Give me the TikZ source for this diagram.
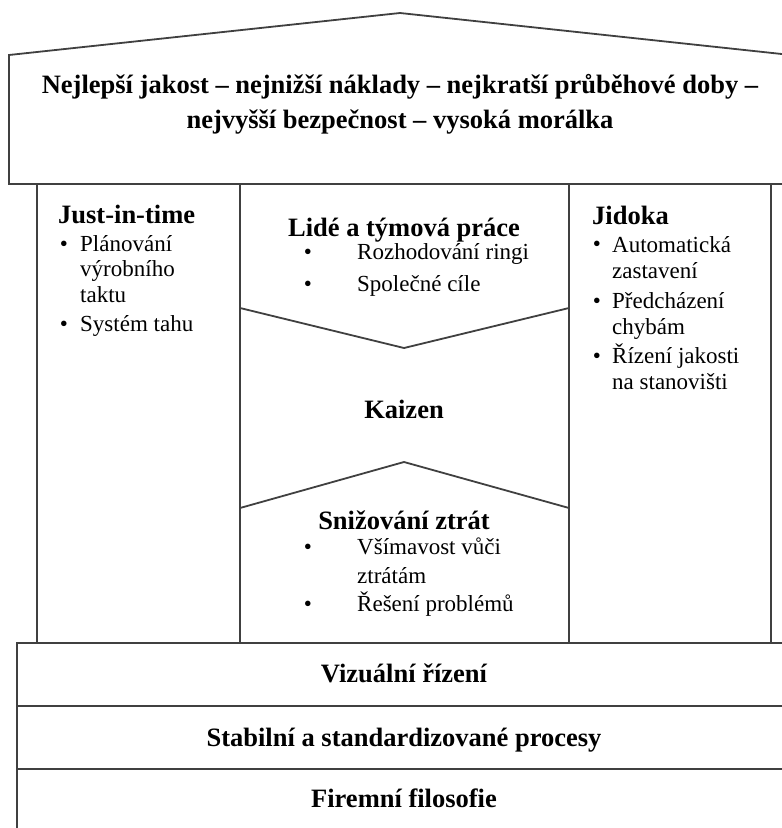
\documentclass[tikz,border=0pt]{standalone}
\usepackage{fontspec}
\setmainfont{Liberation Serif}
\usetikzlibrary{positioning}

\tikzset{
  wall/.style={line width=1.8pt, black!75},
  headtxt/.style={font=\fontsize{26.5}{30}\selectfont\bfseries, inner sep=0pt, anchor=base},
  itemtxt/.style={font=\fontsize{23}{25.5}\selectfont, inner sep=0pt, anchor=base west, align=left},
  blt/.style={font=\fontsize{23}{25.5}\selectfont, inner sep=0pt, anchor=base},
}

\begin{document}
\begin{tikzpicture}[x=1pt,y=-1pt]
\useasboundingbox (0,0) rectangle (782,828);
\begin{scope}
\clip (0,0) rectangle (782,828);
% roof
\draw[wall] (9,55) -- (400,13) -- (791,55) -- (791,184) -- (9,184) -- cycle;
% pillars
\draw[wall] (37,184) -- (37,643);
\draw[wall] (240,184) -- (240,643);
\draw[wall] (569,184) -- (569,643);
\draw[wall] (771,184) -- (771,643);
% kaizen chevrons
\draw[wall] (240,308) -- (404,348) -- (569,308);
\draw[wall] (240,508) -- (404,462) -- (569,508);
% foundation
\draw[wall] (17,840) -- (17,643) -- (800,643);
\draw[wall] (17,706) -- (800,706);
\draw[wall] (17,769) -- (800,769);
\end{scope}

% roof text
\node[headtxt] (goal1) at (400,93) {Nejlepší jakost – nejnižší náklady – nejkratší průběhové doby –};
\node[headtxt] (goal2) at (400,128) {nejvyšší bezpečnost – vysoká morálka};

% just-in-time (multi-line items sit on their last baseline)
\node[headtxt, anchor=base west] (jit) at (58,223) {Just-in-time};
\node[blt] (jitb1) at (64,251) {•};
\node[itemtxt] (jit1) at (80,302) {Plánování\\výrobního\\taktu};
\node[blt] (jitb2) at (64,331) {•};
\node[itemtxt] (jit2) at (80,331) {Systém tahu};

% people
\node[headtxt] (team) at (404,236) {Lidé a týmová práce};
\node[blt] (teamb1) at (308,259) {•};
\node[itemtxt] (team1) at (357,259) {Rozhodování ringi};
\node[blt] (teamb2) at (308,291) {•};
\node[itemtxt] (team2) at (357,291) {Společné cíle};

% kaizen
\node[headtxt] (kaizen) at (404,418) {Kaizen};

% waste
\node[headtxt] (waste) at (404,529) {Snižování ztrát};
\node[blt] (wasteb1) at (308,554) {•};
\node[itemtxt] (waste1) at (357,583) {Všímavost vůči\\[3pt]ztrátám};
\node[blt] (wasteb2) at (308,611) {•};
\node[itemtxt] (waste2) at (357,611) {Řešení problémů};

% jidoka
\node[headtxt, anchor=base west] (jidoka) at (592,224) {Jidoka};
\node[blt] (jidb1) at (597,251) {•};
\node[itemtxt] (jid1) at (612,278) {Automatická\\zastavení};
\node[blt] (jidb2) at (597,308) {•};
\node[itemtxt] (jid2) at (612,334) {Předcházení\\chybám};
\node[blt] (jidb3) at (597,363) {•};
\node[itemtxt] (jid3) at (612,389) {Řízení jakosti\\na stanovišti};

% foundation text
\node[headtxt] (visual) at (404,682) {Vizuální řízení};
\node[headtxt] (stable) at (404,746) {Stabilní a standardizované procesy};
\node[headtxt] (philo) at (404,807) {Firemní filosofie};
\end{tikzpicture}
\end{document}
